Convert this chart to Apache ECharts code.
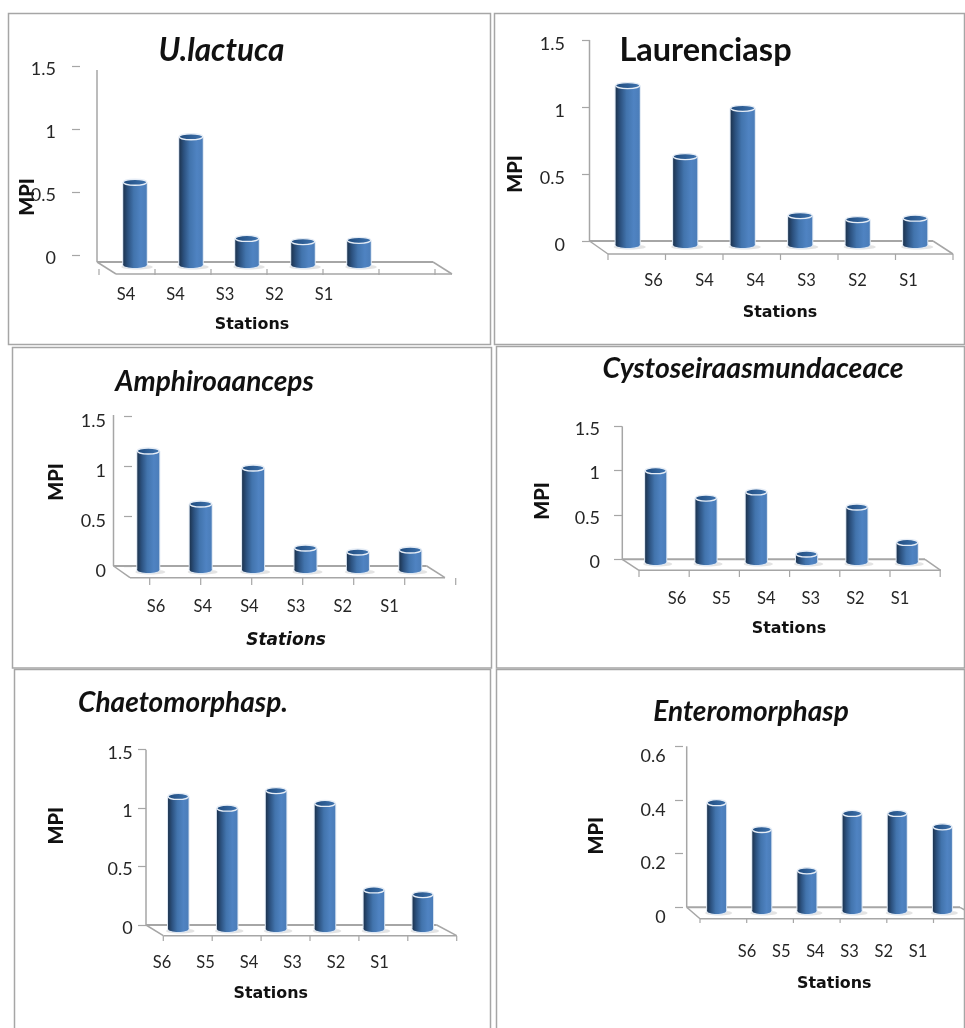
<!DOCTYPE html>
<html>
<head>
<meta charset="utf-8">
<title>MPI by station for six macroalgae</title>
<style>html,body{margin:0;padding:0;background:#fff}#chart{width:965px;height:1028px}</style>
<script src="https://cdn.jsdelivr.net/npm/echarts@6/dist/echarts.min.js"></script>
</head>
<body>
<div id="chart"></div>
<script>
// Station labels printed under each panel
const ulactucaStations = ['S4', 'S4', 'S3', 'S2', 'S1'];
const laurenciaStations = ['S6', 'S4', 'S4', 'S3', 'S2', 'S1'];
const amphiroaStations = ['S6', 'S4', 'S4', 'S3', 'S2', 'S1'];
const cystoseiraStations = ['S6', 'S5', 'S4', 'S3', 'S2', 'S1'];
const chaetomorphaStations = ['S6', 'S5', 'S4', 'S3', 'S2', 'S1'];
const enteromorphaStations = ['S6', 'S5', 'S4', 'S3', 'S2', 'S1'];

// Metal pollution index per bar
const ulactucaValues = [0.58, 0.94, 0.135, 0.11, 0.12];
const laurenciaValues = [1.16, 0.63, 0.99, 0.19, 0.16, 0.17];
const amphiroaValues = [1.15, 0.62, 0.98, 0.18, 0.14, 0.16];
const cystoseiraValues = [1.0, 0.69, 0.76, 0.06, 0.59, 0.19];
const chaetomorphaValues = [1.1, 1.0, 1.15, 1.04, 0.3, 0.26];
const enteromorphaValues = [0.39, 0.29, 0.136, 0.35, 0.35, 0.3];

const panels = [
  { title: 'U.lactuca', italic: true, titleX: 216.5, titleY: 46, titleSize: 31.5, stations: ulactucaStations, values: ulactucaValues,
    max: 1.5, step: 0.5, frame: [8.5, 13.5, 482, 331], axisX: 80, tickTop: 66, tickZero: 255.5,
    wallX: 97, wallTop: 70, backY: 262, backRight: 433, frontY: 274, frontLeft: 116, frontRight: 452,
    bar0: 135, barStep: 56, baseDrop: 12.5, tickX0: 99, tickStep: 56, tickY0: 269, tickY1: 275,
    labelX0: 126, labelStep: 49.5, labelY: 295, yLabelRight: 56, yLabelDy: 3, nameX: 28, nameY: 197, stationsX: 252, stationsY: 324, stationsItalic: false, stationsSize: 15.9 },
  { title: 'Laurenciasp', italic: false, titleX: 700.5, titleY: 46, titleSize: 32.5, stations: laurenciaStations, values: laurenciaValues,
    max: 1.5, step: 0.5, frame: [494.5, 13.5, 470, 331], axisX: 590, tickTop: 40, tickZero: 241,
    wallX: 589.5, wallTop: 40, backY: 241, backRight: 933, frontY: 254, frontLeft: 608, frontRight: 953,
    bar0: 627.7, barStep: 57.5, baseDrop: 7, tickX0: 608, tickStep: 57.5, tickY0: 254, tickY1: 260,
    labelX0: 653.5, labelStep: 51, labelY: 281, yLabelRight: 565, yLabelDy: 4, nameX: 516, nameY: 174, stationsX: 780, stationsY: 312, stationsItalic: false, stationsSize: 15.9 },
  { title: 'Amphiroaanceps', italic: true, titleX: 209.5, titleY: 377, titleSize: 28, stations: amphiroaStations, values: amphiroaValues,
    max: 1.5, step: 0.5, frame: [12.5, 347.5, 479, 320.5], axisX: 132, tickTop: 416, tickZero: 566,
    wallX: 113.5, wallTop: 415, backY: 566, backRight: 426.7, frontY: 577.7, frontLeft: 130, frontRight: 445,
    bar0: 148.3, barStep: 52.4, baseDrop: 7, tickX0: 149.7, tickStep: 51, tickY0: 578, tickY1: 585,
    labelX0: 156, labelStep: 46.7, labelY: 606.7, yLabelRight: 106, yLabelDy: 5, nameX: 57, nameY: 482, stationsX: 286, stationsY: 639, stationsItalic: true, stationsSize: 17 },
  { title: 'Cystoseiraasmundaceace', italic: true, titleX: 748, titleY: 364, titleSize: 28.4, stations: cystoseiraStations, values: cystoseiraValues,
    max: 1.5, step: 0.5, frame: [496.5, 346.5, 468, 321.5], axisX: 622, tickTop: 426.3, tickZero: 559.3,
    wallX: 622.3, wallTop: 426.3, backY: 559.3, backRight: 925, frontY: 570.3, frontLeft: 639, frontRight: 940.7,
    bar0: 655.7, barStep: 50.3, baseDrop: 5.7, tickX0: 639, tickStep: 50.2, tickY0: 570, tickY1: 577,
    labelX0: 677, labelStep: 44.6, labelY: 599, yLabelRight: 600, yLabelDy: 3, nameX: 542.7, nameY: 501, stationsX: 789, stationsY: 628, stationsItalic: false, stationsSize: 15.9 },
  { title: 'Chaetomorphasp.', italic: true, titleX: 178, titleY: 698, titleSize: 28, stations: chaetomorphaStations, values: chaetomorphaValues,
    max: 1.5, step: 0.5, frame: [14.5, 669.5, 476, 380], axisX: 146, tickTop: 749.7, tickZero: 925,
    wallX: 146, wallTop: 749.7, backY: 925, backRight: 436.7, frontY: 935.7, frontLeft: 163.3, frontRight: 456.7,
    bar0: 178.3, barStep: 48.9, baseDrop: 7, tickX0: 163.3, tickStep: 48.9, tickY0: 936, tickY1: 941,
    labelX0: 162, labelStep: 43.5, labelY: 962.7, yLabelRight: 132.7, yLabelDy: 3, nameX: 57, nameY: 825.7, stationsX: 270.7, stationsY: 993, stationsItalic: false, stationsSize: 15.9 },
  { title: 'Enteromorphasp', italic: true, titleX: 746, titleY: 707, titleSize: 28, stations: enteromorphaStations, values: enteromorphaValues,
    max: 0.6, step: 0.2, frame: [496.5, 669.5, 468, 380], axisX: 683, tickTop: 746.3, tickZero: 907.3,
    wallX: 686.7, wallTop: 746.3, backY: 907.3, backRight: 960, frontY: 918.7, frontLeft: 700, frontRight: 980,
    bar0: 717, barStep: 45.9, baseDrop: 6.7, tickX0: 700, tickStep: 46.7, tickY0: 919, tickY1: 923,
    labelX0: 747, labelStep: 34.2, labelY: 952, yLabelRight: 665.7, yLabelDy: 10, nameX: 597, nameY: 835.7, stationsX: 834.3, stationsY: 983, stationsItalic: false, stationsSize: 15.9 }
];

const GREY = '#a6a6a6';
const TEXT = '#262626';
const chart = echarts.init(document.getElementById('chart'), null, { renderer: 'canvas' });

const bodyFill = new echarts.graphic.LinearGradient(0, 0, 1, 0, [
  { offset: 0, color: '#1d3450' },
  { offset: 0.2, color: '#2c5280' },
  { offset: 0.45, color: '#4274ad' },
  { offset: 0.75, color: '#4f83c2' },
  { offset: 1, color: '#4b7db9' }
]);
const capFill = new echarts.graphic.LinearGradient(0, 0, 1, 0, [
  { offset: 0, color: '#1f4a7c' },
  { offset: 1, color: '#3f74b0' }
]);

// Cylinder with a base shadow, pale rim and elliptical cap
function cylinder(baseDrop) {
  return function (params, api) {
    const top = api.coord([api.value(0), api.value(1)]);
    const zero = api.coord([api.value(0), 0]);
    const w = api.size([1, 0])[0] * 0.42;
    const rx = w / 2;
    const ry = 3;
    const x = top[0];
    const baseCy = zero[1] + baseDrop - ry;
    return {
      type: 'group',
      children: [
        { type: 'ellipse', shape: { cx: x + 2, cy: baseCy + 2, rx: rx + 4, ry: 2.5 }, style: { fill: '#dedede', opacity: 0.85 } },
        { type: 'rect', shape: { x: x - rx - 1, y: top[1], width: w + 2, height: baseCy - top[1] }, style: { fill: '#dde7f3' } },
        { type: 'ellipse', shape: { cx: x, cy: baseCy, rx: rx + 1, ry: ry + 1 }, style: { fill: '#dde7f3' } },
        { type: 'rect', shape: { x: x - rx, y: top[1], width: w, height: baseCy - top[1] }, style: { fill: bodyFill } },
        { type: 'ellipse', shape: { cx: x, cy: baseCy, rx: rx, ry: ry }, style: { fill: bodyFill } },
        { type: 'ellipse', shape: { cx: x, cy: top[1], rx: rx, ry: ry }, style: { fill: capFill, stroke: '#e6edf6', lineWidth: 1.3 } }
      ]
    };
  };
}

const grids = [], xAxes = [], yAxes = [], series = [], titles = [], shapes = [];

function line(x1, y1, x2, y2, width) {
  shapes.push({ type: 'line', silent: true, z: 1, shape: { x1, y1, x2, y2 }, style: { stroke: GREY, lineWidth: width } });
}

panels.forEach(function (p) {
  shapes.push({ type: 'rect', silent: true, z: 0,
    shape: { x: p.frame[0], y: p.frame[1], width: p.frame[2], height: p.frame[3] },
    style: { fill: 'transparent', stroke: GREY, lineWidth: 1.5 } });

  // Back wall edge, floor outline and the ticks along its front
  line(p.wallX, p.wallTop, p.wallX, p.backY, 1.5);
  line(p.wallX, p.backY, p.backRight, p.backY, 2);
  line(p.wallX, p.backY, p.frontLeft, p.frontY, 1.5);
  line(p.backRight, p.backY, p.frontRight, p.frontY, 1.5);
  line(p.frontLeft, p.frontY, p.frontRight, p.frontY, 1.5);
  for (let k = 0; k < 7; k++) {
    const tx = p.tickX0 + p.tickStep * k;
    line(tx, p.tickY0, tx, p.tickY1, 1.2);
  }

  titles.push({
    text: p.title, left: p.titleX, top: p.titleY, textAlign: 'center', textVerticalAlign: 'middle',
    textStyle: { fontFamily: 'Lato', fontWeight: 'bold', fontStyle: p.italic ? 'italic' : 'normal', fontSize: p.titleSize, color: '#111' }
  });

  // Grid carrying the cylinders, the value ticks and the MPI name
  const barIndex = grids.length;
  const barLeft = p.bar0 - p.barStep / 2;
  grids.push({ left: barLeft, width: p.barStep * 6, top: p.tickTop, height: p.tickZero - p.tickTop, containLabel: false });
  xAxes.push({
    gridIndex: barIndex, type: 'category', data: [0, 1, 2, 3, 4, 5].map(function (i) { return p.stations[i] || ''; }),
    axisLine: { show: false }, axisTick: { show: false }, axisLabel: { show: false }
  });
  const midY = (p.tickTop + p.tickZero) / 2;
  const shiftUp = midY - p.nameY;
  yAxes.push({
    gridIndex: barIndex, type: 'value', min: 0, max: p.max, interval: p.step, position: 'left',
    offset: barLeft - p.axisX, splitLine: { show: false }, axisLine: { show: false },
    axisTick: { show: true, length: 8, lineStyle: { color: GREY, width: 1.2 } },
    axisLabel: { show: false },
    name: 'MPI', nameLocation: 'middle', nameRotate: 90, nameMoveOverlap: false, nameGap: p.axisX - p.nameX - 10,
    nameTextStyle: { color: '#111', fontFamily: 'Lato', fontWeight: 900, fontSize: 20,
      padding: shiftUp >= 0 ? [0, 0, 0, shiftUp * 2] : [0, -shiftUp * 2, 0, 0] }
  });
  series.push({
    type: 'custom', xAxisIndex: barIndex, yAxisIndex: barIndex, coordinateSystem: 'cartesian2d', clip: false, z: 3,
    renderItem: cylinder(p.baseDrop), encode: { x: 0, y: 1 },
    data: p.values.map(function (v, i) { return [i, v]; })
  });

  // Value labels sit slightly below their ticks, so they get a grid of their own
  const valueLabelIndex = grids.length;
  grids.push({ left: barLeft, width: p.barStep * 6, top: p.tickTop + p.yLabelDy, height: p.tickZero - p.tickTop, containLabel: false });
  xAxes.push({ gridIndex: valueLabelIndex, type: 'category', data: [''], show: false });
  yAxes.push({
    gridIndex: valueLabelIndex, type: 'value', min: 0, max: p.max, interval: p.step, position: 'left',
    offset: barLeft - p.axisX, splitLine: { show: false }, axisLine: { show: false }, axisTick: { show: false },
    axisLabel: { color: TEXT, fontFamily: 'Lato', fontSize: 18, margin: p.axisX - p.yLabelRight }
  });

  // Station labels sit on their own evenly spaced axis under the floor
  const labelIndex = grids.length;
  const labelLeft = p.labelX0 - p.labelStep / 2;
  const labelWidth = p.labelStep * p.stations.length;
  const labelAxisY = p.labelY - 12;
  grids.push({ left: labelLeft, width: labelWidth, top: labelAxisY - 4, height: 4, containLabel: false });
  const shiftRight = p.stationsX - (labelLeft + labelWidth / 2);
  xAxes.push({
    gridIndex: labelIndex, type: 'category', data: p.stations,
    axisLine: { show: false }, axisTick: { show: false },
    axisLabel: { color: TEXT, fontFamily: 'Lato', fontSize: 16.5, margin: 3.5, interval: 0 },
    name: 'Stations', nameLocation: 'middle', nameMoveOverlap: false, nameGap: p.stationsY - labelAxisY - 7,
    nameTextStyle: { color: '#111', fontFamily: 'DejaVu Sans', fontWeight: 'bold', fontStyle: p.stationsItalic ? 'italic' : 'normal', fontSize: p.stationsSize,
      padding: shiftRight >= 0 ? [0, 0, 0, shiftRight * 2] : [0, -shiftRight * 2, 0, 0] }
  });
  yAxes.push({ gridIndex: labelIndex, type: 'value', min: 0, max: 1, show: false });
});

chart.setOption({
  animation: false,
  backgroundColor: '#fff',
  title: titles,
  grid: grids,
  xAxis: xAxes,
  yAxis: yAxes,
  series: series,
  graphic: { elements: shapes }
});
</script>
</body>
</html>
